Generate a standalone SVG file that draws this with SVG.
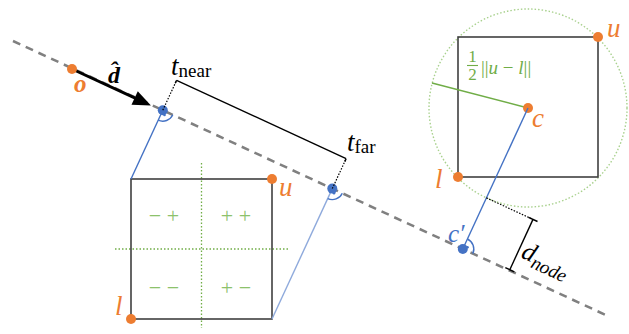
<svg xmlns="http://www.w3.org/2000/svg" width="629" height="334" viewBox="0 0 629 334">
<style>
.ser{font-family:"Liberation Serif","DejaVu Serif",serif}
.it{font-style:italic}
.or{fill:#ED7D31}
.bl{fill:#4472C4}
.gr{fill:#70AD47}
.box{fill:none;stroke:#404040;stroke-width:1.6}
.dot{stroke:#000;stroke-width:1.2;stroke-dasharray:1.5,1.5;fill:none}
.gdot{stroke:#70AD47;stroke-width:1.3;stroke-dasharray:1.5,2;fill:none}
.arc{fill:none;stroke:#4472C4;stroke-width:1.4}
</style>
<rect width="629" height="334" fill="#fff"/>

<g id="ray">
  <line x1="13" y1="41" x2="610" y2="317" stroke="#808080" stroke-width="2.5" stroke-dasharray="8,6"/>
</g>

<g id="box-left">
  <line x1="201.5" y1="163" x2="201.5" y2="328" class="gdot"/>
  <line x1="115" y1="249" x2="289" y2="249" class="gdot"/>
  <rect x="131" y="179" width="141" height="140" class="box"/>
  <g class="ser" fill="#8CC26B" font-size="22" text-anchor="middle">
    <text x="164" y="223">− +</text>
    <text x="236" y="223">+ +</text>
    <text x="164" y="295">− −</text>
    <text x="236" y="295">+ −</text>
  </g>
  <circle cx="272" cy="179" r="5" class="or"/>
  <circle cx="131" cy="319" r="5" class="or"/>
  <text x="279" y="196" class="ser it or" font-size="27">u</text>
  <text x="115" y="315" class="ser it or" font-size="27">l</text>
</g>

<g id="box-right">
  <circle cx="528" cy="108" r="99" fill="none" stroke="#A9D18E" stroke-width="1.4" stroke-dasharray="1.5,2"/>
  <rect x="458" y="37" width="140" height="140" class="box"/>
  <line x1="528" y1="108" x2="432" y2="83" stroke="#70AD47" stroke-width="1.4"/>
  <g class="ser gr">
    <text x="472.5" y="62" font-size="17" text-anchor="middle">1</text>
    <line x1="467" y1="65.5" x2="478" y2="65.5" stroke="#70AD47" stroke-width="1.1"/>
    <text x="472.5" y="80" font-size="17" text-anchor="middle">2</text>
    <text x="481" y="74" font-size="19">||<tspan class="it">u</tspan> − <tspan class="it">l</tspan>||</text>
  </g>
  <circle cx="528" cy="108" r="5" class="or"/>
  <circle cx="598" cy="37" r="5" class="or"/>
  <circle cx="458" cy="177" r="5" class="or"/>
  <text x="532" y="127" class="ser it or" font-size="27">c</text>
  <text x="607" y="37" class="ser it or" font-size="27">u</text>
  <text x="435" y="188" class="ser it or" font-size="27">l</text>
</g>

<g id="connectors">
  <g transform="translate(72,69) rotate(24.8)">
    <line x1="0" y1="0" x2="72" y2="0" stroke="#000" stroke-width="3"/>
    <polygon points="87,0 69,-7.5 69,7.5" fill="#000"/>
  </g>
  <circle cx="72" cy="69" r="5" class="or"/>
  <text x="74" y="92" class="ser it or" font-size="25" font-weight="bold">o</text>
  <text x="108" y="83" class="ser it" font-size="24" font-weight="bold">d̂</text>

  <line x1="162.8" y1="110.2" x2="131" y2="179" stroke="#4472C4" stroke-width="1.4"/>
  <line x1="332.3" y1="188.6" x2="272" y2="319" stroke="#8FAADC" stroke-width="1.4"/>
  <path d="M158.2,120.2 A11,11 0 0 0 172.8,114.8" class="arc"/>
  <circle cx="164.5" cy="114.9" r="1.3" fill="#4472C4"/>
  <path d="M327.7,198.6 A11,11 0 0 0 342.3,193.2" class="arc"/>
  <circle cx="334" cy="193.3" r="1.3" fill="#4472C4"/>
  <circle cx="162.8" cy="110.2" r="5" class="bl"/>
  <circle cx="332.3" cy="188.6" r="5" class="bl"/>

  <line x1="162.8" y1="110.2" x2="176.6" y2="80.3" class="dot"/>
  <line x1="332.3" y1="188.6" x2="346.1" y2="158.7" class="dot"/>
  <line x1="176.6" y1="80.3" x2="346.1" y2="158.7" stroke="#000" stroke-width="1.4"/>
  <line x1="176.6" y1="80.3" x2="175.3" y2="83.2" stroke="#000" stroke-width="1.4"/>
  <line x1="346.1" y1="158.7" x2="344.8" y2="161.6" stroke="#000" stroke-width="1.4"/>
  <text x="171" y="75" class="ser"><tspan class="it" font-size="27">t</tspan><tspan font-size="19" dy="2">near</tspan></text>
  <text x="347" y="151" class="ser"><tspan class="it" font-size="27">t</tspan><tspan font-size="19" dy="2">far</tspan></text>

  <line x1="528" y1="108" x2="462.8" y2="249" stroke="#4472C4" stroke-width="1.4"/>
  <path d="M467.4,239 A11,11 0 0 1 472.8,253.6" class="arc"/>
  <circle cx="467.5" cy="247.3" r="1.3" fill="#4472C4"/>
  <circle cx="462.8" cy="249" r="5" class="bl"/>
  <text x="448" y="242" class="ser it bl" font-size="25">c′</text>

  <line x1="486.4" y1="197.9" x2="533" y2="219.4" class="dot"/>
  <line x1="533" y1="219.4" x2="509.8" y2="269.7" stroke="#000" stroke-width="1.4"/>
  <line x1="528.5" y1="217.3" x2="537.5" y2="221.5" stroke="#000" stroke-width="1.4"/>
  <line x1="505.3" y1="267.6" x2="514.3" y2="271.8" stroke="#000" stroke-width="1.4"/>
  <text transform="translate(520,257) rotate(24.8)" class="ser it"><tspan font-size="26">d</tspan><tspan font-size="19" dy="5">node</tspan></text>
</g>
</svg>
